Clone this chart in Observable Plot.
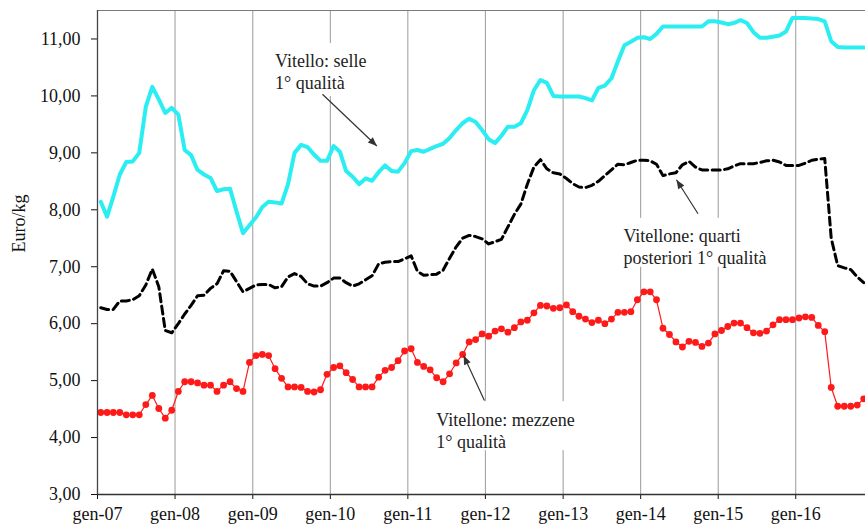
<!DOCTYPE html>
<html><head><meta charset="utf-8">
<script src="https://cdn.jsdelivr.net/npm/d3@7"></script>
<script src="https://cdn.jsdelivr.net/npm/@observablehq/plot@0.6"></script>
<style>
html,body{margin:0;padding:0;background:#fff;}
svg text, svg tspan { font-family: "Liberation Serif", "Times New Roman", serif !important; }
</style></head><body><div id="chart"></div>
<script>
// ---------- DATA ----------
const startYear = 2007; // first month: gennaio 2007, monthly values
const tickLabels = ["gen-07","gen-08","gen-09","gen-10","gen-11","gen-12","gen-13","gen-14","gen-15","gen-16"];
const yTicks = [3,4,5,6,7,8,9,10,11];
const seriesNames = ["Vitello: selle\n1° qualità", "Vitellone: quarti\nposteriori 1° qualità", "Vitellone: mezzene\n1° qualità"];

// Vitello: selle 1° qualità (Euro/kg)
const selle = [
  8.14,7.88,8.23,8.62,8.84,8.85,9.00,9.81,10.16,9.94,9.70,9.79,
  9.67,9.05,8.96,8.70,8.62,8.56,8.33,8.36,8.37,7.97,7.59,7.73,
  7.87,8.05,8.14,8.13,8.11,8.45,9.00,9.14,9.10,8.97,8.86,8.86,
  9.12,9.02,8.68,8.58,8.45,8.55,8.51,8.66,8.78,8.68,8.67,8.82,
  9.03,9.05,9.02,9.07,9.12,9.16,9.26,9.40,9.52,9.60,9.54,9.40,
  9.24,9.17,9.30,9.46,9.46,9.52,9.75,10.10,10.28,10.23,10.00,9.99,
  9.99,9.99,9.99,9.96,9.92,10.14,10.18,10.31,10.61,10.89,10.95,11.02,
  11.03,11.00,11.09,11.22,11.22,11.22,11.22,11.22,11.22,11.22,11.31,11.31,
  11.29,11.26,11.28,11.33,11.28,11.12,11.02,11.02,11.04,11.06,11.13,11.37,
  11.37,11.37,11.36,11.35,11.31,10.96,10.86,10.85,10.85,10.85,10.85
];
// Vitellone: quarti posteriori 1° qualità
const quarti = [
  6.28,6.25,6.25,6.40,6.40,6.42,6.49,6.68,6.96,6.65,5.88,5.84,
  6.00,6.17,6.32,6.49,6.50,6.62,6.70,6.93,6.92,6.74,6.56,6.62,
  6.68,6.69,6.69,6.63,6.65,6.82,6.88,6.83,6.70,6.66,6.66,6.72,
  6.80,6.80,6.72,6.66,6.70,6.77,6.84,7.05,7.08,7.09,7.09,7.14,
  7.19,6.92,6.85,6.86,6.87,6.94,7.15,7.35,7.50,7.55,7.53,7.49,
  7.40,7.44,7.48,7.70,7.92,8.10,8.45,8.75,8.88,8.72,8.65,8.63,
  8.55,8.46,8.40,8.39,8.43,8.50,8.60,8.70,8.80,8.79,8.83,8.87,
  8.87,8.86,8.80,8.60,8.63,8.65,8.79,8.85,8.75,8.70,8.70,8.70,
  8.70,8.72,8.77,8.81,8.81,8.81,8.83,8.86,8.87,8.84,8.78,8.78,
  8.78,8.82,8.87,8.89,8.90,7.50,7.02,6.98,6.95,6.82,6.72
];
// Vitellone: mezzene 1° qualità
const mezzene = [
  4.44,4.44,4.44,4.44,4.40,4.40,4.40,4.58,4.74,4.51,4.34,4.48,
  4.81,4.98,4.98,4.96,4.92,4.92,4.81,4.92,4.98,4.86,4.81,5.32,
  5.44,5.46,5.44,5.21,5.04,4.89,4.89,4.88,4.81,4.80,4.84,5.11,
  5.23,5.26,5.14,5.02,4.89,4.89,4.89,5.06,5.18,5.23,5.35,5.52,
  5.56,5.32,5.25,5.19,5.05,4.98,5.12,5.31,5.46,5.68,5.72,5.82,
  5.78,5.87,5.91,5.85,5.93,6.03,6.06,6.19,6.32,6.31,6.27,6.28,
  6.33,6.21,6.13,6.08,6.02,6.06,6.00,6.08,6.20,6.20,6.21,6.42,
  6.56,6.56,6.42,5.92,5.81,5.68,5.59,5.69,5.67,5.60,5.66,5.82,
  5.88,5.95,6.01,6.01,5.93,5.84,5.83,5.87,5.98,6.07,6.07,6.07,
  6.10,6.12,6.11,5.97,5.86,4.88,4.55,4.55,4.55,4.57,4.68
];

// ---------- helpers ----------
function at(m) { // fractional month offset from Jan 2007 -> Date
  const i = Math.floor(m), f = m - i;
  const a = Date.UTC(startYear, i, 1), b = Date.UTC(startYear, i + 1, 1);
  return new Date(a + f * (b - a));
}
const rows = vals => vals.map((v, i) => ({date: at(i + 0.5), value: v}));
const years = tickLabels.map((_, i) => at(12 * i));
const fmtY = d => d.toFixed(2).replace(".", ",");
const fmtX = d => tickLabels[years.findIndex(y => +y === +d)];

// ---------- annotation layout (month offset, value) ----------
const labelPos = [
  {m: 27.5, v: 10.78},
  {m: 81.35, v: 7.70},
  {m: 52.45, v: 4.48}
];
const arrowPos = [
  {m1: 34.8, v1: 10.03, m2: 43.23, v2: 9.12},
  {m1: 92.9, v1: 7.93, m2: 89.58, v2: 8.527},
  {m1: 59.85, v1: 4.65, m2: 56.65, v2: 5.44}
];
const boxPos = [
  {m1: 26.6, m2: 43.4, v1: 9.99, v2: 10.92},
  {m1: 80.5, m2: 106.0, v1: 6.99, v2: 7.85},
  {m1: 51.6, m2: 76.3, v1: 3.77, v2: 4.63}
];

const font = "Liberation Serif, Times New Roman, serif";

const plot = Plot.plot({
  width: 865,
  height: 524,
  marginLeft: 97,
  marginRight: 0,
  marginTop: 10,
  marginBottom: 30,
  style: {fontFamily: font, fontSize: "18px", background: "white", color: "#111"},
  x: {type: "utc", domain: [at(0), at(118.78)], ticks: years, tickFormat: fmtX, tickSize: 5, tickPadding: 8, label: null},
  y: {domain: [3, 11.5], ticks: yTicks, tickFormat: fmtY, tickSize: 6, tickPadding: 11, label: null},
  marks: [
    Plot.ruleX(years, {stroke: "#9a9a9a", strokeWidth: 1}),
    Plot.rect(boxPos, {x1: d => at(d.m1), x2: d => at(d.m2), y1: "v1", y2: "v2", fill: "white"}),
    Plot.ruleY([11.5], {stroke: "#7a7a7a", strokeWidth: 1.2}),
    Plot.line(rows(quarti), {x: "date", y: "value", stroke: "#000", strokeWidth: 3, strokeDasharray: "8,4.5"}),
    Plot.line(rows(selle), {x: "date", y: "value", stroke: "#2aeef2", strokeWidth: 4, strokeLinejoin: "round"}),
    Plot.line(rows(mezzene), {x: "date", y: "value", stroke: "#ff1a1a", strokeWidth: 1.2}),
    Plot.dot(rows(mezzene), {x: "date", y: "value", r: 3.4, fill: "#ff1a1a"}),
    Plot.ruleX([at(0)], {stroke: "#444", strokeWidth: 1.3}),
    Plot.ruleY([3], {stroke: "#333", strokeWidth: 1.3}),
    Plot.text(seriesNames.map((t, i) => ({t, ...labelPos[i]})), {
      x: d => at(d.m), y: "v", text: "t", textAnchor: "start", lineAnchor: "top",
      lineHeight: 1.22, fontSize: 18, fontFamily: font, fill: "#222"
    }),
    Plot.link(arrowPos, {x1: d => at(d.m1), y1: "v1", x2: d => at(d.m2), y2: "v2",
      stroke: "#333", strokeWidth: 1.2}),
    Plot.text(["Euro/kg"], {text: d => d, frameAnchor: "left", dx: -78, rotate: -90, fontSize: 18, fontFamily: font, fill: "#111"})
  ]
});

// filled arrowheads for the annotation arrows
const svg = d3.select(plot);
const defs = svg.insert("defs", ":first-child");
defs.append("marker")
  .attr("id", "ahead").attr("viewBox", "-10 -5 10 10")
  .attr("refX", 0).attr("refY", 0)
  .attr("markerWidth", 10).attr("markerHeight", 10)
  .attr("markerUnits", "userSpaceOnUse").attr("orient", "auto")
  .append("path").attr("d", "M0,0L-9,-3.6L-9,3.6Z").attr("fill", "#333");
svg.selectAll('g[aria-label="link"] path').attr("marker-end", "url(#ahead)");

document.getElementById("chart").appendChild(plot);
</script>
</body></html>
